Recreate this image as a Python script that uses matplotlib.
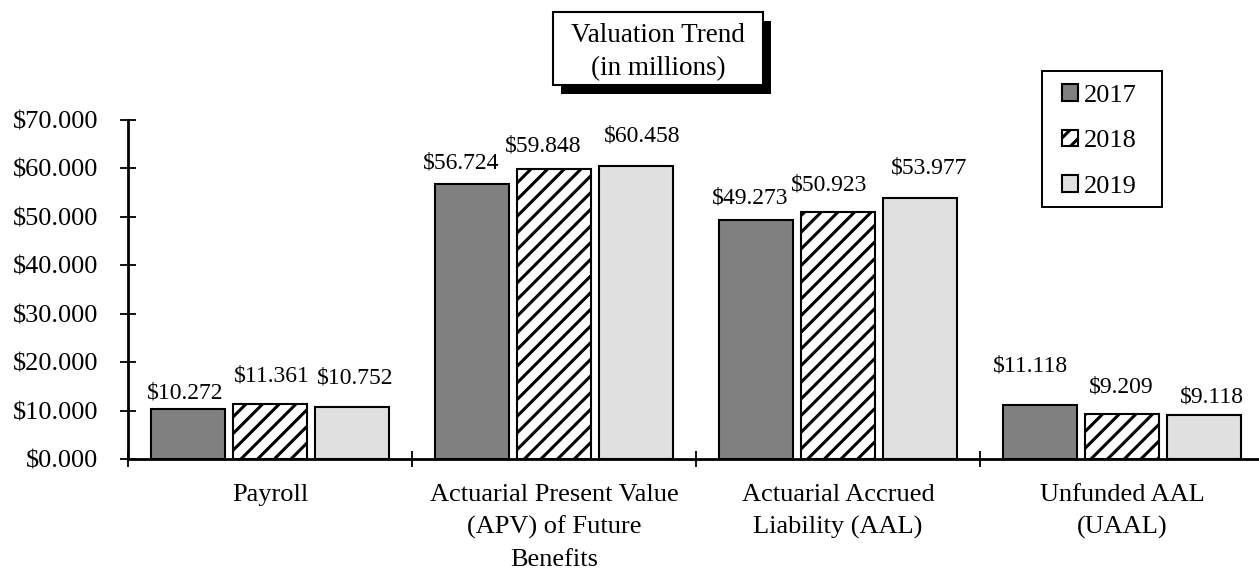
import matplotlib
matplotlib.use("Agg")
import matplotlib.pyplot as plt
from matplotlib.patches import Rectangle
from matplotlib.legend_handler import HandlerPatch
from matplotlib.ticker import FuncFormatter, FixedLocator
import numpy as np

# ---------------- data ----------------
categories = ["Payroll",
              "Actuarial Present Value\n(APV) of Future\nBenefits",
              "Actuarial Accrued\nLiability (AAL)",
              "Unfunded AAL\n(UAAL)"]
years = ["2017", "2018", "2019"]
values_2017 = [10.272, 56.724, 49.273, 11.118]
values_2018 = [11.361, 59.848, 50.923, 9.209]
values_2019 = [10.752, 60.458, 53.977, 9.118]
y_ticks = [0, 10, 20, 30, 40, 50, 60, 70]
title_text = "Valuation Trend\n(in millions)"

# ---------------- style ----------------
FONT = "Liberation Serif"
plt.rcParams["font.family"] = [FONT, "DejaVu Serif"]
plt.rcParams["hatch.linewidth"] = 2.2

series = [values_2017, values_2018, values_2019]
face_colors = ["#808080", "#ffffff", "#e0e0e0"]
hatches = [None, "//", None]
offsets = [-0.2887, 0.0, 0.2887]
bar_width = 0.261
# label offsets in pixels (dx, dy) per series / category
label_dx = [[-3, -11, -6, -10], [2, -11, -9, -1], [3, 6, 9, 8]]
label_dy = [[11, 16, 17, 34], [22, 18, 22, 22], [23, 25, 24, 12]]

W, H = 1259, 571
fig = plt.figure(figsize=(W / 100, H / 100), dpi=100)
ax = fig.add_axes([128 / W, (H - 459) / H, 1136 / W, 339 / H])

x = np.arange(len(categories))
bars = []
for i, vals in enumerate(series):
    b = ax.bar(x + offsets[i], vals, width=bar_width, color=face_colors[i],
               edgecolor="black", linewidth=1.5, hatch=hatches[i],
               label=years[i], zorder=3)
    bars.append(b)
    for j, v in enumerate(vals):
        ax.annotate("\\$" + f"{v:.3f}", xy=(x[j] + offsets[i], v),
                    xytext=(label_dx[i][j], label_dy[i][j]),
                    textcoords="offset pixels", ha="center", va="baseline",
                    fontsize=17, color="black", zorder=4)

ax.set_xlim(-0.5, len(categories) - 0.5)
ax.set_ylim(0, 70)

for s in ["top", "right"]:
    ax.spines[s].set_visible(False)
for s in ["left", "bottom"]:
    ax.spines[s].set_linewidth(2.0)
    ax.spines[s].set_color("black")

ax.set_yticks(y_ticks)
ax.yaxis.set_major_formatter(FuncFormatter(lambda v, p: "\\$" + f"{v:.3f}"))
ax.tick_params(axis="y", direction="inout", length=12, width=1.3,
               pad=15.5, labelsize=19, colors="black")

ax.set_xticks(x)
ax.set_xticklabels(categories, linespacing=1.55)
ax.tick_params(axis="x", which="major", length=0, pad=18, labelsize=19)
ax.xaxis.set_minor_locator(FixedLocator(np.arange(-0.5, len(categories), 1.0)))
ax.tick_params(axis="x", which="minor", direction="inout", length=12, width=1.3)

# title box with shadow
bx0, bx1, by_top, by_bot = 553, 763, 12, 85
sh = 8
fig.add_artist(Rectangle(((bx0 + sh) / W, (H - by_bot - sh - 1) / H),
                         (bx1 - bx0) / W, (by_bot - by_top) / H,
                         transform=fig.transFigure, facecolor="black",
                         edgecolor="black", linewidth=0, zorder=5))
fig.add_artist(Rectangle((bx0 / W, (H - by_bot) / H),
                         (bx1 - bx0) / W, (by_bot - by_top) / H,
                         transform=fig.transFigure, facecolor="white",
                         edgecolor="black", linewidth=1.5, zorder=6))
fig.text((bx0 + bx1) / 2 / W, (H - 52) / H, title_text, ha="center",
         va="center", fontsize=19.5, linespacing=1.45, zorder=7)

# legend frame
lx0, lx1, ly_top, ly_bot = 1042, 1162, 71, 207
fig.add_artist(Rectangle((lx0 / W, (H - ly_bot) / H),
                         (lx1 - lx0) / W, (ly_bot - ly_top) / H,
                         transform=fig.transFigure, facecolor="white",
                         edgecolor="black", linewidth=1.4, zorder=5))


def square_patch(legend, orig_handle, xdescent, ydescent, width, height,
                 fontsize):
    sq = 15 * 72 / 100.0
    return Rectangle((-xdescent + width - sq, -ydescent + (height - sq) / 2),
                     sq, sq)


leg = fig.legend(handles=bars, labels=years, loc="center left",
                 bbox_to_anchor=(1062 / W, (H - 141) / H),
                 bbox_transform=fig.transFigure, fontsize=19,
                 frameon=False, borderaxespad=0, borderpad=0,
                 handlelength=0.6, handleheight=0.6, handletextpad=0.22,
                 labelspacing=0.86,
                 handler_map={type(bars[0][0]): HandlerPatch(patch_func=square_patch)})
leg.set_zorder(6)

fig.savefig("out.png", dpi=100)
